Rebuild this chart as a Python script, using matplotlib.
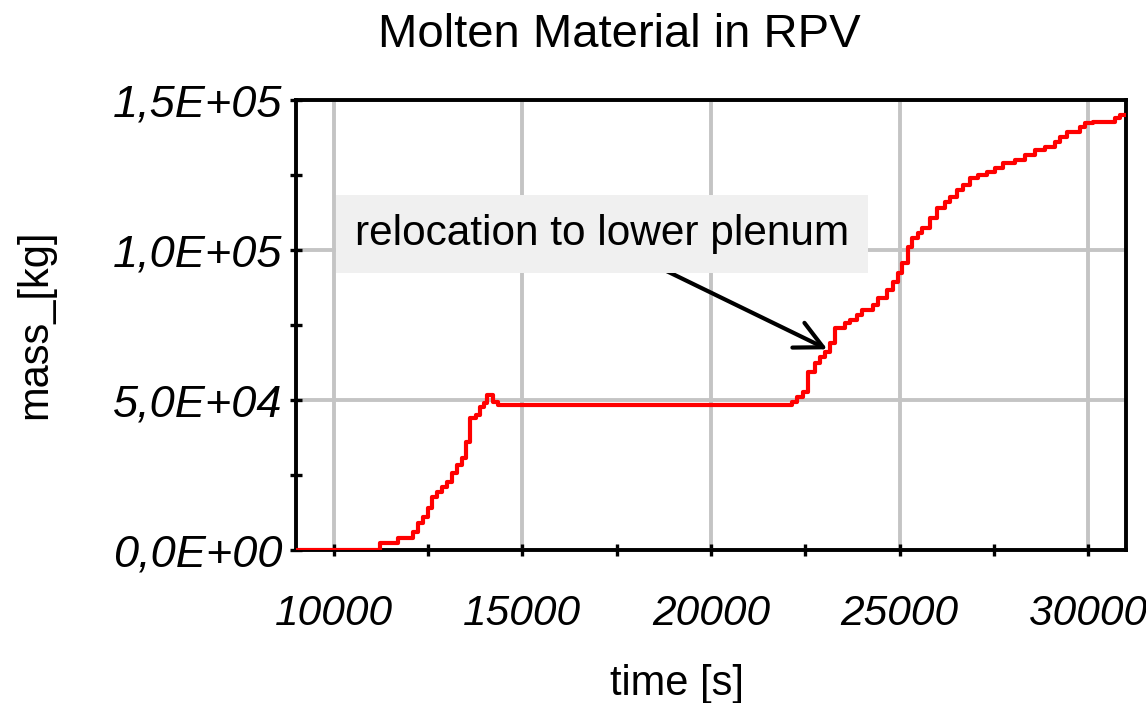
import numpy as np
import matplotlib
matplotlib.use('Agg')
import matplotlib.pyplot as plt
import matplotlib.ticker as mticker

# molten mass in the RPV (step curve)
time_s = [9000, 11220, 11700, 12100, 12230, 12360, 12490, 12600, 12730, 12870,
          13000, 13130, 13260, 13400, 13500, 13610, 13770, 13870, 13980, 14060,
          14220, 14350, 22150, 22280, 22440, 22570, 22760, 22890, 23020, 23160,
          23290, 23550, 23690, 23870, 24000, 24300, 24430, 24670, 24830, 24960,
          25070, 25220, 25330, 25490, 25600, 25810, 26000, 26210, 26340, 26530,
          26680, 26870, 27080, 27320, 27530, 27750, 28060, 28330, 28590, 28860,
          29120, 29260, 29440, 29790, 29920, 30130, 30720, 30850, 31000]
mass_kg = [0, 2300, 4000, 6000, 9000, 11000, 14000, 17700, 19300, 21000,
           22700, 25700, 28300, 30700, 36000, 44000, 45000, 47700, 49000, 51700,
           49300, 48300, 49300, 51000, 52700, 59300, 62300, 64300, 66000, 69000,
           74000, 75700, 76700, 78300, 80000, 81700, 84000, 86700, 89300, 92300,
           95700, 101000, 104000, 105700, 107300, 110700, 114000, 116000, 117700, 120000,
           121700, 124000, 125000, 126000, 127300, 129000, 130000, 131700, 133300, 134300,
           136000, 137700, 139300, 141000, 142300, 142700, 144000, 145000, 145000]

note_text = 'relocation to lower plenum'
note_xy = (10560, 101700)
arrow_tail = (18330, 96000)
arrow_head = (23150, 66500)

plt.rcParams['font.family'] = ['Liberation Sans', 'DejaVu Sans']

fig = plt.figure(figsize=(11.46, 7.03), dpi=100)
ax = fig.add_axes([296/1146, 1-550/703, (1126-296)/1146, (550-100)/703])

ax.plot(time_s, mass_kg, color='#ff0000', lw=3, drawstyle='steps-post', zorder=3)

ax.set_xlim(9000, 31000)
ax.set_ylim(0, 150000)
ax.xaxis.set_major_locator(mticker.MultipleLocator(5000))
ax.xaxis.set_minor_locator(mticker.MultipleLocator(2500))
ax.yaxis.set_major_locator(mticker.MultipleLocator(50000))
ax.yaxis.set_minor_locator(mticker.MultipleLocator(25000))
ax.yaxis.set_major_formatter(mticker.FuncFormatter(lambda v, p: f'{v:.1E}'.replace('.', ',')))
ax.xaxis.set_major_formatter(mticker.FuncFormatter(lambda v, p: f'{int(v)}'))

ax.grid(True, which='major', color='#c4c4c4', lw=2.8, zorder=0)
ax.set_axisbelow(True)
for s in ax.spines.values():
    s.set_linewidth(2.8)
    s.set_color('black')

ax.tick_params(axis='both', which='both', direction='inout', length=9, width=2.4, color='black')
ax.tick_params(axis='x', which='major', pad=27, labelsize=30.5)
ax.tick_params(axis='y', which='major', pad=5, labelsize=32.5)
for lab in ax.get_xticklabels() + ax.get_yticklabels():
    lab.set_fontstyle('italic')

# annotation box + arrow
ax.annotate('', xy=arrow_head, xytext=arrow_tail,
            arrowprops=dict(arrowstyle='->,head_length=0.9,head_width=0.45',
                            color='black', lw=3, mutation_scale=22),
            zorder=4)
ax.text(note_xy[0], note_xy[1], note_text, fontsize=30.5, va='baseline', ha='left',
        bbox=dict(boxstyle='square,pad=0.45', facecolor='#f0f0f0', edgecolor='none'),
        zorder=5)

fig.text(619/1146, 1-47/703, 'Molten Material in RPV', fontsize=34,
         ha='center', va='baseline')
fig.text(677/1146, 1-695/703, 'time [s]', fontsize=30, ha='center', va='baseline')
fig.text(35/1146, 1-324/703, 'mass_[kg]', fontsize=30, rotation=90,
         ha='center', va='center')

fig.savefig('out.png', dpi=100)
